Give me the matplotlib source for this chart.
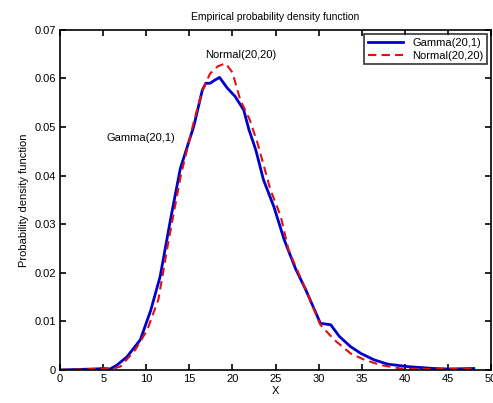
import matplotlib
matplotlib.use("Agg")
import matplotlib.pyplot as plt

plt.rcParams["font.family"] = ["Liberation Sans", "DejaVu Sans"]

# empirical Gamma(20,1) density
gamma_x = [0, 2, 4, 5, 5.8, 6.6, 7.75, 9.3, 10.5, 11.6, 12.8, 13.95, 15.5,
           16.5, 16.9, 17.4, 17.9, 18.5, 19.4, 20.3, 21.3, 21.9, 22.7, 23.6,
           24.8, 26.0, 27.3, 28.5, 30.2, 31.4, 32.4, 33.7, 34.9, 36.4, 38.0, 40.3,
           43.4, 45, 48.0]
gamma_y = [0.0, 0.0001, 0.0002, 0.0003, 0.0002, 0.001, 0.0027, 0.0062, 0.0122,
           0.0192, 0.0309, 0.0415, 0.0501, 0.0576, 0.059, 0.059, 0.0596,
           0.0602, 0.058, 0.0563, 0.0535, 0.0495, 0.0453, 0.0391, 0.0336,
           0.0268, 0.0209, 0.0165, 0.0096, 0.0093, 0.0069, 0.0048, 0.0034, 0.0021,
           0.0012, 0.0007, 0.0003, 0.0002, 0.0003]

# Normal(20,20) curve
normal_x = [0, 2, 4, 5, 6, 7.0, 8.7, 10.1, 11.4, 12.6, 14.0, 15.5, 16.5,
            17.4, 18.3, 19.2, 20.0, 20.9, 22.0, 22.9, 23.45, 24.4, 25.6, 26.5,
            28.5, 30.2, 31.8, 33.7, 35.3, 37.2, 39.5, 42, 45, 48]
normal_y = [0.0, 0.0001, 0.0002, 0.0003, 0.0002, 0.0007, 0.0041, 0.0082, 0.0145,
            0.0268, 0.040, 0.051, 0.0575, 0.061, 0.0625, 0.0631, 0.0612,
            0.0556, 0.0515, 0.0467, 0.0432, 0.0371, 0.0316, 0.0247, 0.0165,
            0.0093, 0.0062, 0.0034, 0.0021, 0.001, 0.0003, 0.0002, 0.0002, 0.0002]

fig = plt.figure(figsize=(4.93, 4.03), dpi=100)
ax = fig.add_axes([0.122, 0.082, 0.874, 0.844])

ax.plot(gamma_x, gamma_y, color="#0000cc", lw=2, label="Gamma(20,1)")
ax.plot(normal_x, normal_y, color="#dd1111", lw=1.5, ls=(0, (4, 2.5)),
        label="Normal(20,20)")

ax.set_xlim(0, 50)
ax.set_ylim(0, 0.07)
ax.set_xticks(range(0, 51, 5))
ax.set_yticks([0, 0.01, 0.02, 0.03, 0.04, 0.05, 0.06, 0.07])
ax.set_yticklabels(["0", "0.01", "0.02", "0.03", "0.04", "0.05", "0.06", "0.07"])
ax.tick_params(direction="in", top=True, right=True, labelsize=8, length=4,
               width=1.2, pad=3)
for s in ax.spines.values():
    s.set_linewidth(1.2)

ax.set_xlabel("X", fontsize=8, labelpad=1)
ax.set_ylabel("Probability density function", fontsize=8, labelpad=4)
ax.set_title("Empirical probability density function", fontsize=7.5, pad=7)

ax.text(20.9, 0.0649, "Normal(20,20)", fontsize=8, ha="center", va="center")
ax.text(9.4, 0.0478, "Gamma(20,1)", fontsize=8, ha="center", va="center")

leg = ax.legend(loc="upper right", fontsize=8, frameon=True, fancybox=False,
                edgecolor="black", borderaxespad=0.4, handlelength=3.2,
                labelspacing=0.3, borderpad=0.3)
leg.get_frame().set_linewidth(1.2)

fig.savefig("out.png", dpi=100)
